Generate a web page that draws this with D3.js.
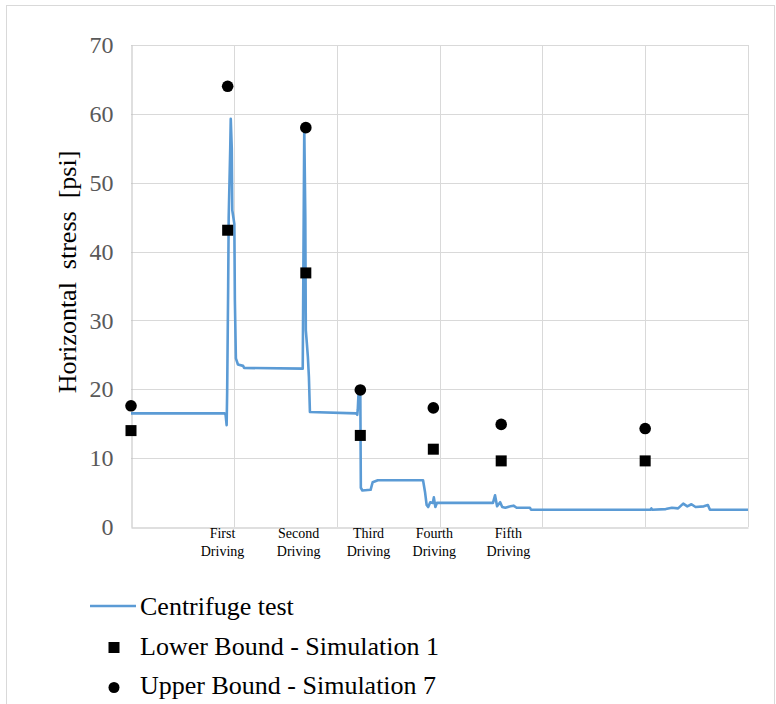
<!DOCTYPE html>
<html><head><meta charset="utf-8">
<script src="https://cdn.jsdelivr.net/npm/d3@7"></script>
<style>body{margin:0;background:#fff}svg{display:block}text{font-family:"Liberation Serif","Times New Roman",serif}</style>
</head><body>
<svg id="c" width="776" height="704"></svg>
<script>
// Centrifuge test series (time units, stress psi)
const testTime = [0, 9.1, 9.2, 9.3, 9.35, 9.45, 9.5, 9.65, 9.7, 9.8, 9.85, 10.05, 10.1, 10.2, 10.4, 10.9, 11, 16.7, 16.85, 16.95, 17.0, 17.1, 17.2, 17.3, 17.4, 21.9, 22.0, 22.05, 22.15, 22.3, 22.35, 22.5, 23.3, 23.5, 24.0, 28.4, 28.6, 28.75, 28.9, 29.1, 29.35, 29.45, 29.6, 29.75, 35.2, 35.4, 35.6, 35.9, 36.1, 36.4, 36.9, 37.2, 37.5, 38.8, 38.9, 50.5, 50.6, 50.7, 52, 52.6, 53.2, 53.7, 54.1, 54.5, 54.9, 55.7, 56.1, 56.3, 60];
const testStress = [16.5, 16.5, 16.3, 14.8, 19.5, 35, 45, 55, 59.3, 55, 46, 44, 33, 24.5, 23.6, 23.4, 23.1, 23.0, 58, 45, 28.6, 26.7, 24.7, 21.8, 16.7, 16.5, 16.3, 17, 20.2, 19.5, 5.7, 5.3, 5.4, 6.5, 6.8, 6.8, 5, 3.2, 2.9, 3.6, 3.5, 4.3, 2.9, 3.5, 3.5, 4.6, 3.0, 3.6, 2.9, 2.8, 3.0, 3.1, 2.8, 2.8, 2.5, 2.5, 2.7, 2.5, 2.6, 2.8, 2.7, 3.4, 3.0, 3.3, 2.9, 3.0, 3.2, 2.5, 2.5];
// Simulation points
const simTime = [0, 9.4, 17.0, 22.3, 29.4, 36.0, 50.0];
const lowerBound = [14.0, 43.1, 36.9, 13.3, 11.3, 9.6, 9.6];
const upperBound = [17.6, 64.0, 58.0, 19.9, 17.3, 14.9, 14.3];
// Axis labels
const yTicks = [0, 10, 20, 30, 40, 50, 60, 70];
const xGrid = [0, 10, 20, 30, 40, 50, 60];
const drivingLabels = ["First", "Second", "Third", "Fourth", "Fifth"];
const drivingPos = [8.9, 16.3, 23.1, 29.5, 36.7];
const seriesNames = ["Centrifuge test", "Lower Bound - Simulation 1", "Upper Bound - Simulation 7"];

const svg = d3.select("#c");
const L = 131, R = 748, T = 45, B = 527;
const x = d3.scaleLinear().domain([0, 60]).range([L, R]);
const y = d3.scaleLinear().domain([0, 70]).range([B, T]);
const blue = "#5b9bd5";

svg.append("rect").attr("x", 6.5).attr("y", 5.5).attr("width", 768).attr("height", 710)
  .attr("fill", "none").attr("stroke", "#d9d9d9");

// gridlines
svg.append("g").selectAll("line").data(yTicks.slice(1)).join("line")
  .attr("x1", L).attr("x2", R).attr("y1", d => Math.round(y(d)) + 0.5).attr("y2", d => Math.round(y(d)) + 0.5)
  .attr("stroke", "#d9d9d9").attr("stroke-width", 1);
svg.append("g").selectAll("line").data(xGrid.slice(1)).join("line")
  .attr("x1", d => Math.round(x(d)) + 0.5).attr("x2", d => Math.round(x(d)) + 0.5).attr("y1", T).attr("y2", B)
  .attr("stroke", "#d9d9d9").attr("stroke-width", 1);

// axes
const yAxis = d3.axisLeft(y).tickValues(yTicks).tickSize(0).tickPadding(18);
const gy = svg.append("g").attr("transform", `translate(${L + 0.5},0)`).call(yAxis);
gy.select(".domain").attr("stroke", "#bfbfbf");
gy.selectAll("text").attr("font-size", 24).attr("fill", "#595959")
  .attr("font-family", '"Liberation Serif","Times New Roman",serif');
const xAxis = d3.axisBottom(x).tickValues([]).tickSize(0);
const gx = svg.append("g").attr("transform", `translate(0,${B + 0.5})`).call(xAxis);
gx.select(".domain").attr("stroke", "#bfbfbf");

// y title
svg.append("text").attr("transform", `translate(76,272) rotate(-90)`)
  .attr("text-anchor", "middle").attr("font-size", 26).attr("fill", "#000")
  .style("white-space", "pre").text("Horizontal  stress  [psi]");

// driving labels
const dl = svg.append("g").selectAll("text").data(drivingLabels).join("text")
  .attr("x", (d, i) => x(drivingPos[i])).attr("y", 538).attr("text-anchor", "middle")
  .attr("font-size", 14).attr("fill", "#000");
dl.append("tspan").attr("x", (d, i) => x(drivingPos[i])).attr("dy", 0).text(d => d);
dl.append("tspan").attr("x", (d, i) => x(drivingPos[i])).attr("dy", 18).text("Driving");

// line
const line = d3.line().x(d => x(d[0])).y(d => y(d[1]));
svg.append("path").datum(testTime.map((t, i) => [t, testStress[i]]))
  .attr("d", line).attr("fill", "none").attr("stroke", blue).attr("stroke-width", 2.6)
  .attr("stroke-linejoin", "round");

// markers
svg.append("g").selectAll("rect").data(simTime).join("rect")
  .attr("x", (d) => x(d) - 5.5).attr("y", (d, i) => y(lowerBound[i]) - 5.5)
  .attr("width", 11).attr("height", 11).attr("fill", "#000");
svg.append("g").selectAll("circle").data(simTime).join("circle")
  .attr("cx", d => x(d)).attr("cy", (d, i) => y(upperBound[i])).attr("r", 5.8).attr("fill", "#000");

// legend
const lg = svg.append("g");
lg.append("line").attr("x1", 90).attr("x2", 136).attr("y1", 606).attr("y2", 606)
  .attr("stroke", blue).attr("stroke-width", 2.6);
lg.append("rect").attr("x", 108.5).attr("y", 642).attr("width", 11).attr("height", 11).attr("fill", "#000");
lg.append("circle").attr("cx", 114).attr("cy", 687.5).attr("r", 5.5).attr("fill", "#000");
lg.selectAll("text").data(seriesNames).join("text")
  .attr("x", 140).attr("y", (d, i) => 615 + i * 39.5).attr("font-size", 26).attr("fill", "#000")
  .text(d => d);
</script>
</body></html>
